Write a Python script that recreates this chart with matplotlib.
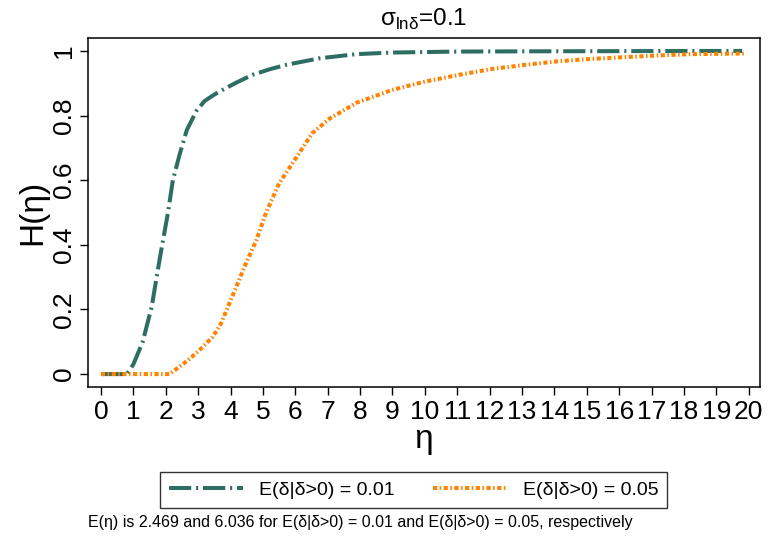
import matplotlib
matplotlib.use('Agg')
import matplotlib.pyplot as plt

plt.rcParams['font.family'] = ['Liberation Sans', 'DejaVu Sans']
plt.rcParams['mathtext.fontset'] = 'custom'
plt.rcParams['mathtext.rm'] = 'Liberation Sans'
plt.rcParams['lines.scale_dashes'] = False

# H(eta), sigma_ln(delta) = 0.1
eta_01 = [0, 0.8, 1.0, 1.29, 1.57, 1.82, 2.07, 2.22, 2.43, 2.65, 2.95, 3.2,
          3.5, 3.8, 4.18, 4.68, 5.2, 5.72, 6.74, 7.88, 9, 11, 14, 19.8]
h_01 = [0, 0, 0.03, 0.10, 0.21, 0.36, 0.50, 0.60, 0.68, 0.755, 0.815, 0.845,
        0.865, 0.882, 0.902, 0.926, 0.943, 0.957, 0.977, 0.99, 0.995, 0.998,
        0.999, 1.0]

eta_05 = [0, 2.12, 2.65, 3.0, 3.45, 3.7, 3.97, 4.2, 4.4, 4.8, 5.1, 5.5, 6.03,
          6.52, 7.05, 7.9, 8.98, 10.0, 11.05, 12.06, 13.1, 14.1, 15.1, 16.2,
          17.2, 18.2, 19.9]
h_05 = [0, 0, 0.04, 0.07, 0.115, 0.155, 0.22, 0.275, 0.325, 0.415, 0.50, 0.59,
        0.67, 0.745, 0.79, 0.84, 0.879, 0.905, 0.926, 0.944, 0.957, 0.968,
        0.975, 0.981, 0.986, 0.99, 0.992]

labels = ['E(δ|δ>0) = 0.01', 'E(δ|δ>0) = 0.05']
green = '#2d6e62'
orange = '#ff8200'

fig = plt.figure(figsize=(7.68, 5.39), dpi=100)
ax = fig.add_axes([0.1146, 0.282, 0.875, 0.6475])

l1, = ax.plot(eta_01, h_01, color=green, lw=2.9, label=labels[0])
l1.set_dashes((16, 3.5, 1.5, 3.5))
l2, = ax.plot(eta_05, h_05, color=orange, lw=2.9, label=labels[1])
l2.set_dashes((3, 1.8, 1.1, 1.8))

ax.set_xlim(-0.4, 20.35)
ax.set_ylim(-0.04, 1.04)
ax.set_xticks(range(0, 21))
ax.set_yticks([0, 0.2, 0.4, 0.6, 0.8, 1])
ax.set_yticklabels(['0', '0.2', '0.4', '0.6', '0.8', '1'], rotation=90, va='center')
ax.tick_params(labelsize=19, length=6, width=1, pad=3)
for s in ax.spines.values():
    s.set_linewidth(1.1)

ax.set_xlabel('η', fontsize=24, labelpad=0)
ax.set_ylabel('H(η)', fontsize=24, labelpad=2)
ax.set_title(r'σ$_{\mathregular{lnδ}}$=0.1', fontsize=17.5, pad=9)

fig.legend(handles=[l1, l2], loc='center', bbox_to_anchor=(0.5386, 0.091),
           ncol=2, fontsize=14, frameon=True, fancybox=False, edgecolor='black',
           handlelength=3.8, columnspacing=2.0, borderpad=0.45)
fig.text(0.1146, 0.031, 'E(η) is 2.469 and 6.036 for E(δ|δ>0) = 0.01 and E(δ|δ>0) = 0.05, respectively',
         fontsize=11.5, ha='left', va='center')

fig.savefig('out.png', dpi=100)
